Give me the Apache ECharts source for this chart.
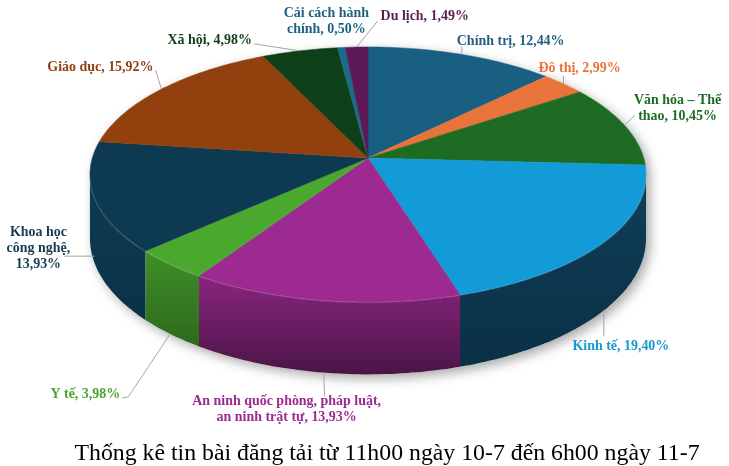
<!DOCTYPE html>
<html><head><meta charset="utf-8">
<script src="https://cdn.jsdelivr.net/npm/echarts@6/dist/echarts.min.js"></script>
<style>html,body{margin:0;padding:0;background:#fff}#c{width:729px;height:466px}</style>
</head><body><div id="c"></div>
<script>
// ---- data ----
const categories = ['Chính trị','Đô thị','Văn hóa – Thể thao','Kinh tế','An ninh quốc phòng, pháp luật, an ninh trật tự','Y tế','Khoa học công nghệ','Giáo dục','Xã hội','Cải cách hành chính','Du lịch'];
const values = [12.44, 2.99, 10.45, 19.40, 13.93, 3.98, 13.93, 15.92, 4.98, 0.50, 1.49];
const labelTemplates = ['Chính trị, {v}','Đô thị, {v}','Văn hóa – Thể\nthao, {v}','Kinh tế, {v}','An ninh quốc phòng, pháp luật,\nan ninh trật tự, {v}','Y tế, {v}','Khoa học\ncông nghệ,\n{v}','Giáo dục, {v}','Xã hội, {v}','Cải cách hành\nchính, {v}','Du lịch, {v}'];
const titleText = 'Thống kê tin bài đăng tải từ 11h00 ngày 10-7 đến 6h00 ngày 11-7';

// ---- styles ----
const topColors  = ['#185f81','#e8743b','#1e6b23','#139bd7','#9c2a90','#4ba82f','#0d3a51','#93400f','#0d4019','#1a6a8a','#5b1a55'];
const wallTop    = ['#144f6c','#c4602f','#18591d','#0f3f58','#8a2580','#3f8f28','#0e3c53','#7a350c','#0a3414','#155873','#4a1545'];
const wallBottom = ['#0d3a50','#94471f','#103f14','#0a3045','#4a1545','#2d6a1c','#0a3146','#5a2608','#07260e','#0e3f53','#2f0d2b'];
const labelColors = ['#1f5f80','#e8743b','#1e6b23','#1899d4','#9b2a8f','#4aa32e','#173b4f','#8f3f12','#0e3f1a','#1f5f80','#5a1f4f'];
// label layout: anchor kind (0 = top rim, 1 = wall bottom, fraction = on wall), leader offsets, text offset, align
const labelLayout = [
  {a:0, lead:[[0,-8]], t:[-5,-13], al:'left'},
  {a:0, lead:[[0,-8]], t:[-25,-16], al:'left'},
  {a:0, lead:[[10,-10]], t:[53,-17], al:'center'},
  {a:1, lead:[[0,26]], t:[17,36], al:'center'},
  {a:1, lead:[[1,24]], t:[-37,36], al:'center'},
  {a:1, lead:[[-42,63],[-48,64]], t:[-50,60], al:'right'},
  {a:0.9, lead:[[-30,0]], t:[-56,-8], al:'center'},
  {a:0, lead:[[-6,-19]], t:[-8,-22], al:'right'},
  {a:0, lead:[[-46,-7]], t:[-48,-11], al:'right'},
  {a:0, lead:null, t:[-15,-27], al:'center'},
  {a:0, lead:[[21,-26]], t:[24,-31], al:'left'}
];

// ---- geometry (perspective-tilted disc) ----
const CX = 368, CY = 158, R = 275.7, B = 125.4, D = 7.73, H = 63;
const TH_L = Math.acos(-1 / D) * 180 / Math.PI, TH_R = 360 - TH_L;
function proj(theta, r) {
  const t = theta * Math.PI / 180;
  const u = r * Math.sin(t), v = -r * Math.cos(t);
  const s = D / (D - v);
  return [CX + R * u * s, CY + B * v * s, s];
}
function bottomPt(theta, f) {
  const p = proj(theta, 1);
  return [p[0], p[1] + H * p[2] * (f === undefined ? 1 : f)];
}
const total = values.reduce((a, b) => a + b, 0);
const starts = [], ends = [];
values.reduce((acc, v, i) => { starts[i] = acc / total * 360; ends[i] = (acc + v) / total * 360; return acc + v; }, 0);
function arc(a0, a1, fn) {
  const pts = [];
  const n = Math.max(2, Math.ceil((a1 - a0) / 1));
  for (let k = 0; k <= n; k++) pts.push(fn(a0 + (a1 - a0) * k / n));
  return pts;
}
const fmt = v => v.toFixed(2).replace('.', ',') + '%';

function wallItem(params, api) {
  const i = params.dataIndex;
  const children = [];
  if (i === 0) {
    const pts = arc(-TH_L, TH_L, a => proj(a, 1).slice(0, 2)).concat(arc(TH_L, TH_R, a => bottomPt(a)));
    children.push({type: 'polygon', shape: {points: pts}, style: {fill: '#ffffff', shadowColor: 'rgba(0,0,0,0.35)', shadowBlur: 12, shadowOffsetX: 4, shadowOffsetY: 4}});
  }
  const lo = Math.max(starts[i], TH_L), hi = Math.min(ends[i], TH_R);
  if (hi > lo) {
    const topArc = arc(lo, hi, a => proj(a, 1).slice(0, 2));
    const botArc = arc(lo, hi, a => bottomPt(a)).reverse();
    children.push({type: 'polygon', shape: {points: topArc.concat(botArc)},
      style: {fill: new echarts.graphic.LinearGradient(0, 0, 0, 1, [{offset: 0, color: wallTop[i]}, {offset: 1, color: wallBottom[i]}]), stroke: null}});
    children.push({type: 'polyline', shape: {points: topArc}, style: {stroke: 'rgba(255,255,255,0.18)', lineWidth: 2, fill: null}});
  }
  return {type: 'group', children};
}
function topItem(params, api) {
  const i = params.dataIndex;
  const pts = [[CX, CY]].concat(arc(starts[i], ends[i], a => proj(a, 1).slice(0, 2)));
  return {type: 'polygon', shape: {points: pts}, style: {fill: topColors[i], stroke: topColors[i], lineWidth: 0.5}};
}
function labelItem(params, api) {
  const i = params.dataIndex;
  const L = labelLayout[i];
  const mid = (starts[i] + ends[i]) / 2;
  const anc = L.a === 0 ? proj(mid, 1).slice(0, 2) : bottomPt(mid, L.a);
  const children = [];
  if (L.lead) {
    const pts = [anc].concat(L.lead.map(o => [anc[0] + o[0], anc[1] + o[1]]));
    children.push({type: 'polyline', shape: {points: pts}, style: {stroke: '#a6a6a6', lineWidth: 1, fill: null}});
  }
  children.push({type: 'text', x: anc[0] + L.t[0], y: anc[1] + L.t[1], scaleX: 0.9,
    style: {text: labelTemplates[i].replace('{v}', fmt(api.value(0))), fill: labelColors[i],
      font: 'bold 15.5px "Liberation Serif", "Times New Roman", serif', align: L.al, verticalAlign: 'middle', lineHeight: 16}});
  return {type: 'group', children};
}

const chart = echarts.init(document.getElementById('c'), null, {renderer: 'canvas'});
chart.setOption({
  animation: false,
  backgroundColor: '#ffffff',
  title: {text: titleText, left: 382, top: 437, textAlign: 'center',
    textStyle: {fontFamily: '"Liberation Serif", "Times New Roman", serif', fontSize: 23.8, fontWeight: 'normal', color: '#000'}},
  series: [
    {type: 'custom', coordinateSystem: 'none', z: 1, data: values.map((v, i) => ({name: categories[i], value: [v]})), renderItem: wallItem},
    {type: 'custom', coordinateSystem: 'none', z: 2, data: values.map((v, i) => ({name: categories[i], value: [v]})), renderItem: topItem},
    {type: 'custom', coordinateSystem: 'none', z: 3, data: values.map((v, i) => ({name: categories[i], value: [v]})), renderItem: labelItem}
  ]
});
</script></body></html>
